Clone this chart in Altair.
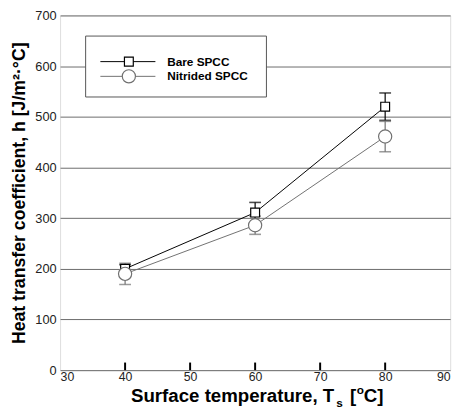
import altair as alt
import pandas as pd

temps = [40, 60, 80]
bare = [200, 311, 520]
bare_err = [8, 20, 27]
nitrided = [190, 286, 461]
nitrided_err = [21, 18, 30]
series_names = ["Bare SPCC", "Nitrided SPCC"]
x_ticks = [30, 40, 50, 60, 70, 80, 90]
y_ticks = [0, 100, 200, 300, 400, 500, 600, 700]
inner_ticks = [40, 50, 60, 70, 80]

FONT = "Liberation Sans"
GRAY = "#707070"

rows = []
for t, v, e in zip(temps, bare, bare_err):
    rows.append({"T": t, "h": v, "lo": v - e, "hi": v + e, "s": series_names[0]})
for t, v, e in zip(temps, nitrided, nitrided_err):
    rows.append({"T": t, "h": v, "lo": v - e, "hi": v + e, "s": series_names[1]})
df = pd.DataFrame(rows)

xs = alt.Scale(domain=[30, 90], nice=False)
ys = alt.Scale(domain=[0, 700], nice=False)

xax = alt.Axis(values=x_ticks, title=None, grid=False,
               ticks=False, domain=False, labelFont=FONT, labelFontSize=12.5,
               labelColor="#222", labelPadding=1)
yax = alt.Axis(values=y_ticks, title="Heat transfer coefficient, h [J/m²·°C]",
               grid=True, gridColor="#6a6a6a", gridWidth=1, ticks=False, domain=False,
               labelFont=FONT, labelFontSize=13, labelColor="#222", labelPadding=4,
               titleFont=FONT, titleFontSize=18, titleFontWeight="bold",
               titlePadding=7, titleColor="#000")

cscale = alt.Scale(domain=series_names, range=["#000000", GRAY])

base = alt.Chart(df)

lines = base.mark_line(strokeWidth=1).encode(
    x=alt.X("T:Q", scale=xs, axis=xax),
    y=alt.Y("h:Q", scale=ys, axis=yax),
    color=alt.Color("s:N", scale=cscale, legend=None),
    detail="s:N",
)

bars = base.mark_rule(strokeWidth=1.2).encode(
    x="T:Q", y="lo:Q", y2="hi:Q",
    color=alt.Color("s:N", scale=cscale, legend=None),
)
caps_lo = base.mark_tick(orient="horizontal", size=12, thickness=1.6).encode(
    x="T:Q", y="lo:Q", color=alt.Color("s:N", scale=cscale, legend=None))
caps_hi = base.mark_tick(orient="horizontal", size=12, thickness=1.6).encode(
    x="T:Q", y="hi:Q", color=alt.Color("s:N", scale=cscale, legend=None))

pts_bare = alt.Chart(df[df.s == series_names[0]]).mark_point(
    shape="square", size=81, filled=True, fill="white", stroke="black", strokeWidth=1.2,
    opacity=1).encode(x="T:Q", y="h:Q")
pts_nit = alt.Chart(df[df.s == series_names[1]]).mark_point(
    shape="circle", size=180, filled=True, fill="white", stroke=GRAY, strokeWidth=1.2,
    opacity=1).encode(x="T:Q", y="h:Q")

tick_df = pd.DataFrame({"T": inner_ticks, "y0": [0] * 5, "y1": [15] * 5})
inner = alt.Chart(tick_df).mark_rule(color="black", strokeWidth=2).encode(
    x="T:Q", y="y0:Q", y2="y1:Q")

one = pd.DataFrame({"a": [0]})


def txt(s, x, y, size, align="left"):
    return alt.Chart(one).mark_text(text=s, font=FONT, fontSize=size, fontWeight="bold",
                                    align=align, baseline="alphabetic",
                                    color="#000").encode(x=alt.value(x), y=alt.value(y))


# x-axis title with sub/superscripts
xt_main = txt("Surface temperature, T", 279, 393, 19, align="right")
xt_sub = txt("s", 281, 398, 12)
xt_br = txt("[", 295, 393, 19)
xt_sup = txt("o", 302, 385, 12)
xt_c = txt("C]", 309, 393, 19)

# legend (drawn manually)
leg_box = alt.Chart(one).mark_rect(fill="white", stroke="#555", strokeWidth=1).encode(
    x=alt.value(26), x2=alt.value(210), y=alt.value(21), y2=alt.value(83))
leg_l1 = alt.Chart(one).mark_rule(color="black", strokeWidth=1).encode(
    x=alt.value(41), x2=alt.value(97), y=alt.value(47))
leg_l2 = alt.Chart(one).mark_rule(color=GRAY, strokeWidth=1).encode(
    x=alt.value(41), x2=alt.value(97), y=alt.value(62))
leg_p1 = alt.Chart(one).mark_point(shape="square", size=81, filled=True, fill="white",
                                   stroke="black", strokeWidth=1.2, opacity=1).encode(
    x=alt.value(70), y=alt.value(47))
leg_p2 = alt.Chart(one).mark_point(shape="circle", size=180, filled=True, fill="white",
                                   stroke=GRAY, strokeWidth=1.2, opacity=1).encode(
    x=alt.value(70), y=alt.value(62))
leg_t1 = alt.Chart(one).mark_text(text=series_names[0], font=FONT, fontSize=12,
                                  fontWeight="bold", align="left", baseline="middle",
                                  color="#000").encode(x=alt.value(109), y=alt.value(47))
leg_t2 = alt.Chart(one).mark_text(text=series_names[1], font=FONT, fontSize=12,
                                  fontWeight="bold", align="left", baseline="middle",
                                  color="#000").encode(x=alt.value(109), y=alt.value(62))

chart = alt.layer(
    lines, leg_box, leg_l1, leg_l2, leg_p1, leg_p2, leg_t1, leg_t2,
    inner, bars, caps_lo, caps_hi, pts_bare, pts_nit,
    xt_main, xt_sub, xt_br, xt_sup, xt_c,
).properties(
    width=397, height=361,
    autosize=alt.AutoSizeParams(type="none"),
    padding={"left": 53, "top": 4, "right": 10, "bottom": 38},
).configure_view(stroke="black", strokeWidth=2).configure(background="white")

chart.save("out.html", embed_options={"renderer": "svg", "actions": False})
